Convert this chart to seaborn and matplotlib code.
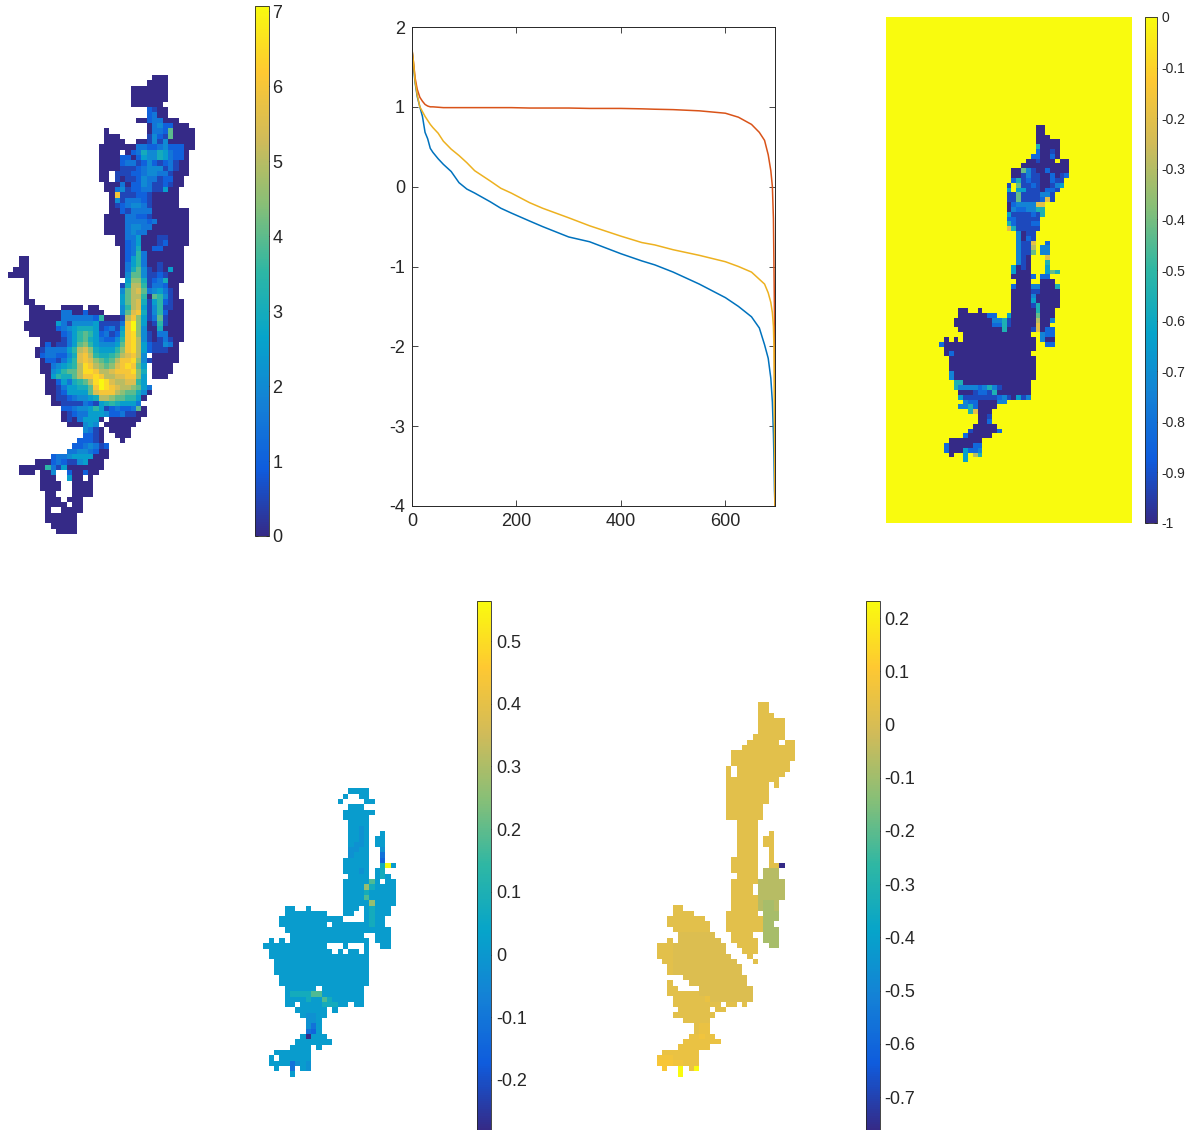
"""
Five panels: population map, sorted curves, and three difference maps.
Map rows are lists of (first column, cell codes); a space in the codes is an empty cell.
"""

import numpy as np
import matplotlib
matplotlib.use('Agg')
import matplotlib.pyplot as plt
import seaborn as sns
from matplotlib.colors import LinearSegmentedColormap

# ===== data: curves =====
curve_x = [0, 3, 6, 10, 15, 20, 25, 30, 35, 40, 50, 60, 75, 90, 105, 120, 150, 170, 190, 225,
           250, 300, 340, 400, 440, 465, 500, 550, 600, 625, 650, 665, 675, 682, 687, 690,
           692, 693, 694, 695]
curve_blue = [1.72, 1.5, 1.3, 1.13, 1.0, .88, .68, .6, .48, .43, .35, .28, .19, .05, -.03, -.08,
              -.19, -.27, -.33, -.43, -.5, -.63, -.69, -.84, -.93, -.98, -1.07, -1.22, -1.39,
              -1.5, -1.63, -1.77, -1.98, -2.15, -2.4, -2.7, -3.1, -3.4, -3.8, -4]
curve_red = [1.72, 1.55, 1.36, 1.22, 1.12, 1.07, 1.03, 1.01, 1.0, 1.0, .995, .99, .99, .99, .99,
             .99, .99, .99, .99, .985, .985, .985, .98, .98, .975, .97, .965, .95, .92, .87,
             .78, .68, .58, .4, .2, 0, -.4, -1, -1.6, -4]
curve_yellow = [1.72, 1.55, 1.32, 1.15, 1.0, .94, .88, .83, .78, .74, .67, .57, .47, .39, .30, .2,
                .07, -.02, -.08, -.2, -.27, -.39, -.49, -.62, -.7, -.73, -.79, -.86, -.94, -1.0,
                -1.07, -1.16, -1.22, -1.33, -1.45, -1.58, -1.75, -2, -3, -4]

# ===== data: map 1 (codes 0-9, a-e are steps of 0.5) =====
map1_codes = "0123456789abcde"
map1_rows = [
    [(27, "000")], [(26, "0000")], [(23, "0000000")], [(23, "0000000")], [(23, "0000000")],
    [(23, "000000")], [(26, "2100")], [(26, "2300")], [(24, "00233000")], [(26, "03422000")],
    [(18, "0"), (26, "033280000")],
    [(18, "000"), (26, "142180000")],
    [(18, "0000"), (24, "00141400000")],
    [(17, "0000000"), (24, "33223422200")],
    [(17, "0000 023644653220")],
    [(17, "00002202544653220")],
    [(17, "00002331242123100")],
    [(17, "00001112344413100")],
    [(17, "00 11122344331000")],
    [(17, "00 1011243312200")],
    [(18, "000302243112100")],
    [(18, "00341223311500")],
    [(19, "0c11122100000")],
    [(19, "0413332100000")],
    [(19, "0123443100000")],
    [(19, "002133330000000")],
    [(18, "0000332210000000")],
    [(18, "0000333323000000")],
    [(18, "0000344330000000")],
    [(18, "0000343300000000")],
    [(20, "00335000110000")],
    [(20, "00235000120000")],
    [(21, "023600220000")],
    [(21, "023730000000")],
    [(2, "00"), (21, "025730000000")],
    [(2, "00"), (21, "035730010000")],
    [(1, "000"), (21, "036841010500")],
    [(0, "0000"), (21, "048841121000")],
    [(3, "0"), (22, "59961236000")],
    [(3, "0"), (21, "16aa7133200")],
    [(3, "0"), (21, "48ab8345310")],
    [(3, "0"), (21, "58aa7087410")],
    [(3, "00"), (21, "58ab61572100")],
    [(4, "000"), (10, "0000"), (15, "00"), (21, "47ab51471100")],
    [(4, "000000"), (10, "33002000"), (21, "48bc61472000")],
    [(4, "00000033333327000"), (21, "1ac951381000")],
    [(3, "000000531444451111"), (21, "3ce950171000")],
    [(3, "000000"), (9, "234566651231"), (21, "5ce940060000")],
    [(4, "00000"), (9, "023578752312"), (21, "6cd941033000")],
    [(6, "000"), (9, "013578653224"), (21, "7cda41013100")],
    [(6, "020"), (9, "113589754445"), (21, "8cda5211430")],
    [(5, "0133335 7ab96555 7".replace(" ", "")), (21, "9cda5211100")],
    [(5, "02332246bca76678"), (21, "abca4 00000")],
    [(6, "0221357bcb9878accd94100000")],
    [(6, "0034567adca989bcdc85 0000")],
    [(6, "0045788addcaabcccd96 0000")],
    [(7, "057668accdcaabbcc95 000")],
    [(7, "00253678adedbaabb75")],
    [(7, "001355668cedcbaa9853")],
    [(7, "001255558bccca988640")],
    [(8, "011234456aa9887750")],
    [(8, "00111132156765553")],
    [(10, "2234457512322380")],
    [(10, "0123355542231100")],
    [(10, "01035550"), (19, "000000")],
    [(11, "000454"), (18, "000000")],
    [(14, "4310"), (19, "0000")],
    [(14, "2210"), (20, "000")],
    [(13, "22210"), (21, "0")],
    [(12, "2234312")],
    [(11, "33443200")],
    [(8, "23345555000")],
    [(5, "0002321145000")],
    [(2, "0000073150000000")],
    [(2, "000 004"), (11, "200200")],
    [(6, "000"), (11, "500"), (15, "0")],
    [(6, "0000"), (12, "0000")],
    [(6, "0000"), (12, "0000")],
    [(7, "00"), (12, "0000")],
    [(7, "000 000")],
    [(7, "0000 00")],
    [(7, "0"), (10, "0000")],
    [(7, "000000")], [(7, "000000")], [(8, "00000")], [(9, "0000")],
]

# ===== data: map 3 (code d picks a level, every other cell is 0) =====
map3_levels = [-1, -.92, -.83, -.74, -.64, -.55, -.42, -.3, -.2, -.1]
map3_rows = [
    [(20, "00")], [(20, "00")], [(20, "000")], [(20, "00000")], [(20, "50000")], [(20, "20010")],
    [(19, "220020")], [(18, "001000"), (25, "00")], [(17, "0000000000")],
    [(15, "006310020000")], [(15, "001311002012")], [(15, "25121100211")],
    [(14, "1 6112100134")], [(14, "4 441110221")], [(14, "1161111331")], [(14, "1161111281")],
    [(14, "02333388")], [(14, "03223355")], [(14, "41111215")], [(14, "2211111")],
    [(14, "5211122")], [(14, "8511111")], [(16, "3011")], [(16, "3021")],
    [(16, "3118  2")], [(16, "3117 33")], [(16, "3116 33")], [(16, "310   8")],
    [(16, "310   5")], [(15, "4010   4")], [(15, "4000   465")], [(15, "00002 22")],
    [(16, "000  000")], [(15, "2000330005")], [(15, "0000110000")], [(15, "0000300000")],
    [(15, "0000400000")], [(15, "0000150000")],
    [(4, "00"), (8, "0"), (15, "000005000")],
    [(4, "00000022"), (14, "4000006000")],
    [(3, "00000000" + "3351" + "00000" + "7003")],
    [(3, "00000000" + "2251" + "00000" + "800")],
    [(4, "000000000" + "5" + "00000" + "18022")],
    [(5, "00000000000000"), (21, "322")],
    [(1, "0"), (3, "0"), (5, "000000000000000"), (21, "300")],
    [(0, "20000000000000000000"), (22, "22")],
    [(1, "0000000000000000000")],
    [(1, "020000000000000000")],
    [(2, "000000000000000000")], [(2, "000000000000000000")], [(2, "000000000000000000")],
    [(2, "300000000000000000")], [(2, "300000000000000000")],
    [(3, "5500000000000000")],
    [(3, "5333323531000000")],
    [(4, "000122150000000")],
    [(4, "411111112310413")],
    [(5, "322000033")], [(4, "33520000")], [(6, "58000")], [(8, "001")], [(8, "002")],
    [(7, "00000")], [(6, "1000002")], [(5, "200000")], [(2, "0000000")], [(1, "20000022")],
    [(1, "20004223")], [(2, "0  4 75")], [(5, "4")],
]

# ===== data: map 4 =====
map4_levels = {'0': 0.012, 'a': -0.02, 'b': -0.11, 'c': -0.15, 't': 0.075, 'g': 0.18, 'h': 0.27,
               'y': 0.564, 'n': -0.28}
map4_rows = [
    [(16, "0000")], [(15, "0  00")], [(14, "0"), (19, "00")], [(16, "000")], [(15, "000000")],
    [(15, "00000")], [(16, "0000")], [(16, "00a0")], [(16, "00a0"), (22, "0")],
    [(16, "00a0"), (21, "00")], [(16, "0aa0"), (21, "00")], [(16, "aa00"), (22, "a")],
    [(16, "a000"), (22, "b")], [(15, "00000"), (22, "c")], [(15, "00000"), (22, "ty0")],
    [(15, "000a0"), (21, "0t")], [(16, "0000"), (21, "0t0")], [(15, "00000g0"), (23, "00")],
    [(15, "0000ht0000")], [(15, "0000t00000")], [(15, "0000g00000")], [(15, "00000h0000")],
    [(4, "00"), (8, "0"), (15, "000"), (19, "0t000")],
    [(4, "00000000"), (15, "00"), (19, "0t000")],
    [(3, "000000000000"), (19, "0t00")],
    [(3, "000000000"), (13, "0000000t00")],
    [(4, "00000000000000000000")],
    [(5, "00000000000000"), (21, "000")],
    [(1, "0"), (3, "0"), (5, "000000000000000"), (21, "000")],
    [(0, "000000000000"), (15, "0"), (19, "0"), (22, "00")],
    [(1, "000000000000"), (14, "0"), (16, "00"), (19, "0")],
    [(1, "0000000000000000000")],
    [(2, "000000000000000000")], [(2, "000000000000000000")], [(2, "000000000000000000")],
    [(3, "00000000000000000")], [(3, "00000000000000000")],
    [(4, "000000"), (11, "00000000")],
    [(4, "0ttttgg00000000")],
    [(4, "0000t00gt000000")],
    [(4, "00"), (7, "0000ttt00"), (17, "00")],
    [(6, "000000"), (13, "0")],
    [(7, "0aa00")], [(8, "aa0")], [(8, "ab0")], [(8, "bc0")], [(7, "0n000")],
    [(6, "0000000")], [(5, "0000"), (10, "0")], [(2, "0000000")], [(1, "0"), (3, "000000")],
    [(1, "0000ba0a")], [(2, "0"), (5, "b"), (7, "0a")], [(5, "0")],
]

# ===== data: map 5 =====
map5_levels = {'0': 0.028, 'm': 0.012, 'f': -0.06, 'g': -0.09, 'o': 0.05, 'p': 0.07, 'q': 0.09,
               'y': 0.232, 'n': -0.762}
map5_rows = [
    [(19, "00")], [(19, "00")], [(19, "000")], [(19, "00000")], [(19, "00000")], [(19, "00000")],
    [(18, "000000")], [(17, "000000"), (24, "00")], [(16, "0000000000")],
    [(14, "000000000000")], [(14, "000000000000")], [(14, "00000000000")],
    [(13, "0"), (15, "0000000000")], [(13, "0"), (15, "000000000")], [(13, "0000000000")],
    [(13, "00000000"), (22, "0")], [(13, "00000000")], [(13, "00000000")], [(13, "00000000")],
    [(13, "0000000")], [(13, "0000000")], [(13, "0000000")],
    [(15, "0000")], [(15, "0000")], [(15, "0000"), (21, "0")], [(15, "0000"), (20, "00")],
    [(15, "0000"), (20, "00")], [(15, "0000"), (21, "0")], [(15, "0000"), (21, "0")],
    [(14, "00000"), (21, "0")], [(14, "00000"), (21, "00n")],
    [(14, "00000"), (20, "fff")], [(15, "0000"), (20, "fff")], [(14, "00000fffff")],
    [(14, "0000"), (19, "fffff")], [(14, "0000"), (19, "fffff")], [(14, "00000fffff")],
    [(14, "00000fggf")],
    [(3, "00"), (14, "00000"), (19, "fggf")],
    [(3, "0000"), (13, "000000"), (20, "ggg")],
    [(2, "0000000"), (13, "0000000ggg")],
    [(2, "00000000"), (13, "0000000gg")],
    [(3, "0000000"), (13, "0000000"), (20, "ggg")],
    [(4, "mmmmmmm"), (14, "0000"), (20, "ggg")],
    [(2, "0"), (4, "mmmmmmmm"), (14, "00000"), (20, "ggg")],
    [(0, "000mmmmmmmmmm"), (15, "0000"), (21, "gg")],
    [(0, "000mmmmmmmmmm"), (16, "000")],
    [(0, "000mmmmmmmmmmm"), (17, "0")],
    [(1, "00mmmmmmmmmmmm"), (18, "0")],
    [(2, "0mmmmmmmmmmmmm")], [(2, "0mmmmmmmmmmmmm")],
    [(5, "mmmmmmmmmmmm")],
    [(2, "0"), (6, "mmmmmmmmmmm")],
    [(2, "00"), (8, "mmmmmmmmmm")],
    [(2, "000000mmmmmmmmmm")],
    [(3, "000000ommmmmmmm")],
    [(3, "000000000"), (13, "00"), (16, "0")],
    [(4, "000000"), (11, "00")],
    [(3, "00000000")], [(5, "00000")], [(7, "0oo")], [(7, "0oo")], [(6, "oopoo")],
    [(5, "ooooooo")], [(4, "oooooo")], [(1, "ooooooo")], [(0, "pppooooo")], [(0, "qqqppooo")],
    [(1, "q"), (4, "y"), (6, "oy")], [(4, "y")],
]

# colorbar ticks
ticks_map1 = [0, 1, 2, 3, 4, 5, 6, 7]
ticks_map3 = [-1, -0.9, -0.8, -0.7, -0.6, -0.5, -0.4, -0.3, -0.2, -0.1, 0]
ticks_map4 = [-0.2, -0.1, 0, 0.1, 0.2, 0.3, 0.4, 0.5]
ticks_map5 = [-0.7, -0.6, -0.5, -0.4, -0.3, -0.2, -0.1, 0, 0.1, 0.2]

# ===== style =====
sns.set_theme(style='ticks')
plt.rcParams['font.family'] = ['Liberation Sans', 'DejaVu Sans']
plt.rcParams['axes.unicode_minus'] = False

W, H = 1199, 1130
TEXT = '#262626'
parula = LinearSegmentedColormap.from_list(
    'parula', ['#352a87', '#0f5cdd', '#1481d6', '#06a4ca', '#2eb7a4',
               '#87bf77', '#d1bb59', '#fec832', '#f9fb0e'])


def px_axes(fig, x0, y0, x1, y1):
    return fig.add_axes([x0 / W, 1 - y1 / H, (x1 - x0) / W, (y1 - y0) / H])


def decode(rows, ncols, lookup, pad_top=0, pad_bottom=0, pad_left=0, fill=np.nan):
    grid = np.full((len(rows) + pad_top + pad_bottom, ncols), fill, dtype=float)
    for r, spans in enumerate(rows):
        for start, codes in spans:
            for i, ch in enumerate(codes):
                if ch != ' ':
                    grid[r + pad_top, pad_left + start + i] = lookup(ch)
    return grid


def draw_map(fig, grid, box, cbar_box, vmin, vmax, ticks, size, pad=3):
    ax = px_axes(fig, *box)
    cax = px_axes(fig, *cbar_box)
    sns.heatmap(grid, mask=np.isnan(grid), cmap=parula, vmin=vmin, vmax=vmax, ax=ax, cbar_ax=cax,
                xticklabels=False, yticklabels=False, cbar_kws={'ticks': ticks, 'format': '%g'})
    cb = ax.collections[0].colorbar
    cb.outline.set_linewidth(0.6)
    cb.outline.set_edgecolor(TEXT)
    cax.tick_params(axis='y', which='major', direction='in', left=True, right=True, length=2.5,
                    width=0.6, color=TEXT, labelsize=size, labelcolor=TEXT, pad=pad)
    return ax


fig = plt.figure(figsize=(W / 100, H / 100), dpi=100)

# ----- top left -----
grid1 = decode(map1_rows, 35, lambda ch: map1_codes.index(ch) * 0.5)
draw_map(fig, grid1, (8, 75, 194.7, 534), (255, 6, 269, 536), 0, 7.07, ticks_map1, 13, pad=2.5)

# ----- top middle -----
ax = px_axes(fig, 412, 27, 775, 506)
sns.lineplot(x=curve_x, y=curve_blue, color='#0072BD', linewidth=1.1, estimator=None, ax=ax)
sns.lineplot(x=curve_x, y=curve_red, color='#D95319', linewidth=1.1, estimator=None, ax=ax)
sns.lineplot(x=curve_x, y=curve_yellow, color='#EDB120', linewidth=1.1, estimator=None, ax=ax)
ax.set_xlim(0, 695)
ax.set_ylim(-4, 2)
ax.set_xticks([0, 200, 400, 600])
ax.set_yticks([-4, -3, -2, -1, 0, 1, 2])
ax.tick_params(direction='in', top=True, right=True, length=4, width=0.6, color=TEXT,
               labelsize=13, labelcolor=TEXT, pad=5)
for sp in ax.spines.values():
    sp.set_linewidth(0.7)
    sp.set_color(TEXT)
    sp.set_visible(True)

# ----- top right -----
grid3 = decode(map3_rows, 51, lambda ch: map3_levels[int(ch)],
               pad_top=23, pad_bottom=13, pad_left=11, fill=0.0)
ax3 = draw_map(fig, grid3, (886, 17, 1132, 523), (1145, 17, 1157, 523), -1, 0, ticks_map3, 10)
ax3.set_ylim(grid3.shape[0] - 0.4, 0.6)

# ----- bottom -----
grid4 = decode(map4_rows, 25, map4_levels.get)
draw_map(fig, grid4, (263.3, 788.3, 396, 1076.7), (477, 601, 491, 1130), -0.28, 0.564,
         ticks_map4, 13, pad=3.5)
grid5 = decode(map5_rows, 26, map5_levels.get)
draw_map(fig, grid5, (656.7, 702.3, 795.3, 1076.5), (866, 601, 880, 1130), -0.762, 0.232,
         ticks_map5, 13, pad=3)

fig.savefig('out.png', dpi=100)
plt.close(fig)
